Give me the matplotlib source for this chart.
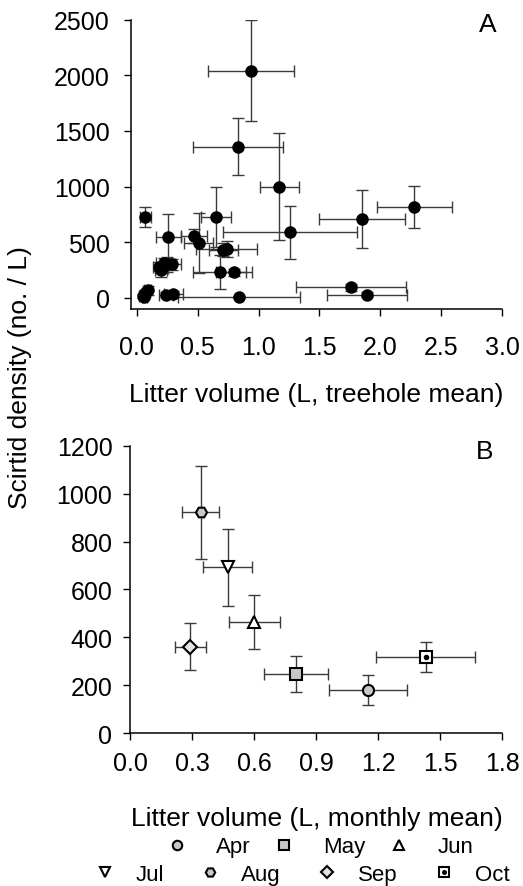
import matplotlib
matplotlib.use("Agg")
import matplotlib.pyplot as plt
from matplotlib.legend_handler import HandlerTuple
import numpy as np

plt.rcParams['font.family'] = ['Liberation Sans', 'DejaVu Sans']

# ---------------- Panel A data (treehole means) ----------------
a_x = [0.94, 0.83, 1.17, 1.26, 0.65, 0.07, 0.26, 0.47, 0.51, 0.71, 0.74, 0.68, 0.80,
       0.18, 0.20, 0.22, 0.25, 0.29, 0.21, 0.05, 0.07, 0.09, 0.06, 0.24, 0.30, 0.84,
       2.28, 1.85, 1.76, 1.89]
a_y = [2040, 1360, 1000, 590, 730, 725, 550, 555, 497, 434, 440, 231, 231,
       280, 250, 310, 300, 300, 270, 15, 40, 70, 5, 30, 35, 5,
       815, 705, 95, 30]
a_xerr = [0.355, 0.37, 0.16, 0.55, 0.12, 0.045, 0.10, 0.11, 0.12, 0.12, 0.25, 0.22, 0.15,
          0.05, 0.05, 0.06, 0.06, 0.07, 0.05, 0.03, 0.03, 0.03, 0.02, 0.06, 0.08, 0.50,
          0.31, 0.35, 0.45, 0.33]
a_yerr = [455, 260, 480, 240, 270, 90, 200, 60, 270, 60, 70, 150, 30,
          40, 60, 50, 70, 50, 50, 20, 30, 40, 15, 20, 25, 10,
          190, 260, 30, 20]

# ---------------- Panel B data (monthly means) ----------------
months = ['Apr', 'May', 'Jun', 'Jul', 'Aug', 'Sep', 'Oct']
b_x = [1.15, 0.80, 0.60, 0.47, 0.34, 0.29, 1.43]
b_y = [180, 247, 465, 693, 922, 362, 318]
b_xerr = [0.19, 0.155, 0.125, 0.12, 0.09, 0.075, 0.24]
b_yerr = [62, 76, 114, 160, 193, 98, 63]
b_markers = ['o', 's', '^', 'v', 'H', 'D', 's']
b_faces = ['#c8c8c8', '#c8c8c8', 'white', 'white', '#c8c8c8', '#e4e4e4', 'white']

fig = plt.figure(figsize=(5.23, 8.87), dpi=100)
axA = fig.add_axes([0.2499, 0.6505, 0.7101, 0.3262])
axB = fig.add_axes([0.2495, 0.1722, 0.7109, 0.3242])

FS = 18
LFS = 19
ecol = '#3a3a3a'

for ax in (axA, axB):
    for s in ('top', 'right'):
        ax.spines[s].set_visible(False)
    for s in ('left', 'bottom'):
        ax.spines[s].set_linewidth(1.1)
    ax.tick_params(direction='out', length=5, width=1.0, labelsize=FS)

# Panel A
axA.errorbar(a_x, a_y, xerr=a_xerr, yerr=a_yerr, fmt='o', color='black',
             ecolor=ecol, elinewidth=1.0, capsize=4, capthick=1.0,
             markersize=8, markeredgecolor='black')
axA.set_xlim(-0.05, 3.0)
axA.set_ylim(-100, 2500)
axA.set_xticks(np.arange(0, 3.01, 0.5))
axA.set_xticklabels([f'{v:.1f}' for v in np.arange(0, 3.01, 0.5)])
axA.set_yticks(np.arange(0, 2501, 500))
axA.tick_params(axis='x', pad=14)
axA.tick_params(axis='y', pad=10)
axA.set_xlabel('Litter volume (L, treehole mean)', fontsize=LFS, labelpad=16)
axA.text(0.962, 0.985, 'A', transform=axA.transAxes, fontsize=FS + 1,
         ha='center', va='center')

# Panel B
handles = []
for i, m in enumerate(months):
    axB.errorbar(b_x[i], b_y[i], xerr=b_xerr[i], yerr=b_yerr[i], fmt='none',
                 ecolor=ecol, elinewidth=1.0, capsize=4, capthick=1.0, zorder=2)
    ln, = axB.plot(b_x[i], b_y[i], linestyle='none', marker=b_markers[i],
                   markersize=8 if b_markers[i] != 'D' else 7,
                   markerfacecolor=b_faces[i], markeredgecolor='black',
                   markeredgewidth=1.5, zorder=3, label=m)
    h = ln
    if m == 'Oct':
        dot, = axB.plot(b_x[i], b_y[i], linestyle='none', marker='o',
                        markersize=3, color='black', zorder=4)
        h = (ln, dot)
    handles.append(h)

axB.set_xlim(0, 1.8)
axB.set_ylim(0, 1200)
axB.set_xticks(np.arange(0, 1.81, 0.3))
axB.set_xticklabels([f'{v:.1f}' for v in np.arange(0, 1.81, 0.3)])
axB.set_yticks(np.arange(0, 1201, 200))
axB.tick_params(axis='x', pad=8)
axB.tick_params(axis='y', pad=8)
axB.set_xlabel('Litter volume (L, monthly mean)', fontsize=LFS, labelpad=22)
axB.text(0.952, 0.98, 'B', transform=axB.transAxes, fontsize=FS + 1,
         ha='center', va='center')

fig.text(0.038, 0.5744, 'Scirtid density (no. / L)', rotation=90,
         fontsize=LFS, ha='center', va='center')

# Legend in two rows
hmap = {tuple: HandlerTuple(ndivide=1, pad=0)}
leg1 = fig.legend(handles[:3], months[:3], ncol=3, loc='center left',
                  bbox_to_anchor=(0.296, 0.044), frameon=False, fontsize=16,
                  handlelength=1.2, handletextpad=1.16, columnspacing=0.9,
                  borderaxespad=0, markerscale=0.85, handler_map=hmap)
leg2 = fig.legend(handles[3:], months[3:], ncol=4, loc='center left',
                  bbox_to_anchor=(0.1576, 0.013), frameon=False, fontsize=16,
                  handlelength=1.2, handletextpad=0.8, columnspacing=1.47,
                  borderaxespad=0, markerscale=0.85, handler_map=hmap)

fig.savefig('out.png', dpi=100)
